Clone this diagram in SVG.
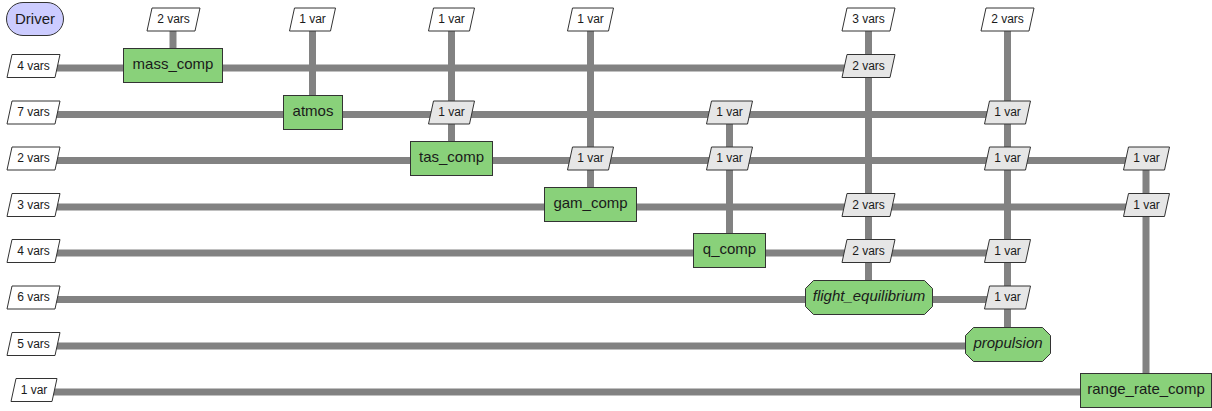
<svg xmlns="http://www.w3.org/2000/svg" xmlns:xlink="http://www.w3.org/1999/xlink" width="1212" height="411" viewBox="0 0 1212 411">
  <style>
    .bg { fill: #ffffff; }
    .flow { stroke: #828282; stroke-width: 7; fill: none; stroke-linecap: butt; }
    .node { stroke: #333333; stroke-width: 1; }
    .driver { fill: #ccccff; }
    .func { fill: #89d17a; }
    .in { fill: #ffffff; stroke: #333333; stroke-width: 1; }
    .data { fill: #e6e6e6; stroke: #333333; stroke-width: 1; }
    .lbl { font-family: "Liberation Sans", Arial, sans-serif; font-size: 15px; fill: #1a1a1a; text-anchor: middle; }
    .lbl.it { font-style: italic; }
    .var { font-family: "Liberation Sans", Arial, sans-serif; font-size: 12px; fill: #1a1a1a; text-anchor: middle; }
  </style>
  <defs>
    <!-- skewed variable tags, centred on (0,0) -->
    <polygon id="tagW" points="-21.5,-11.5 26.5,-11.5 21.5,11.5 -26.5,11.5"/>
    <polygon id="tagN" points="-18,-11.5 23,-11.5 18,11.5 -23,11.5"/>
  </defs>
  <rect class="bg" x="0" y="0" width="1212" height="411"/>

  <!-- data-flow lines -->
  <g id="connectors">
    <!-- horizontal rows -->
    <line class="flow" x1="34" y1="68" x2="868" y2="68"/>
    <line class="flow" x1="34" y1="114.5" x2="1007" y2="114.5"/>
    <line class="flow" x1="34" y1="160.5" x2="1146" y2="160.5"/>
    <line class="flow" x1="34" y1="207" x2="1146" y2="207"/>
    <line class="flow" x1="34" y1="253" x2="1007" y2="253"/>
    <line class="flow" x1="34" y1="299.5" x2="1007" y2="299.5"/>
    <line class="flow" x1="34" y1="346" x2="1007" y2="346"/>
    <line class="flow" x1="34" y1="392" x2="1146" y2="392"/>
    <!-- vertical columns -->
    <line class="flow" x1="173" y1="19.5" x2="173" y2="68"/>
    <line class="flow" x1="312.5" y1="19.5" x2="312.5" y2="114.5"/>
    <line class="flow" x1="451.5" y1="19.5" x2="451.5" y2="160.5"/>
    <line class="flow" x1="590.5" y1="19.5" x2="590.5" y2="207"/>
    <line class="flow" x1="729.5" y1="112.5" x2="729.5" y2="253"/>
    <line class="flow" x1="868.5" y1="19.5" x2="868.5" y2="299.5"/>
    <line class="flow" x1="1007.5" y1="19.5" x2="1007.5" y2="346"/>
    <line class="flow" x1="1146" y1="158.5" x2="1146" y2="392"/>
  </g>

  <!-- inputs along the top row -->
  <g id="inputs-top">
    <use xlink:href="#tagW" x="173.5" y="19.5" class="in"/><text class="var" x="173.5" y="23">2 vars</text>
    <use xlink:href="#tagN" x="312.5" y="19.5" class="in"/><text class="var" x="312.5" y="23">1 var</text>
    <use xlink:href="#tagN" x="451.5" y="19.5" class="in"/><text class="var" x="451.5" y="23">1 var</text>
    <use xlink:href="#tagN" x="590.5" y="19.5" class="in"/><text class="var" x="590.5" y="23">1 var</text>
    <use xlink:href="#tagW" x="868.5" y="19.5" class="in"/><text class="var" x="868.5" y="23">3 vars</text>
    <use xlink:href="#tagW" x="1007.5" y="19.5" class="in"/><text class="var" x="1007.5" y="23">2 vars</text>
  </g>

  <!-- inputs along the left column -->
  <g id="inputs-left">
    <use xlink:href="#tagW" x="33.5" y="66" class="in"/><text class="var" x="33.5" y="69.5">4 vars</text>
    <use xlink:href="#tagW" x="33.5" y="112.5" class="in"/><text class="var" x="33.5" y="116">7 vars</text>
    <use xlink:href="#tagW" x="33.5" y="158.5" class="in"/><text class="var" x="33.5" y="162">2 vars</text>
    <use xlink:href="#tagW" x="33.5" y="205" class="in"/><text class="var" x="33.5" y="208.5">3 vars</text>
    <use xlink:href="#tagW" x="33.5" y="251" class="in"/><text class="var" x="33.5" y="254.5">4 vars</text>
    <use xlink:href="#tagW" x="33.5" y="297.5" class="in"/><text class="var" x="33.5" y="301">6 vars</text>
    <use xlink:href="#tagW" x="33.5" y="344" class="in"/><text class="var" x="33.5" y="347.5">5 vars</text>
    <use xlink:href="#tagN" x="34" y="390" class="in"/><text class="var" x="34" y="393.5">1 var</text>
  </g>

  <!-- coupling variables between components -->
  <g id="couplings">
    <use xlink:href="#tagW" x="868.5" y="66" class="data"/><text class="var" x="868.5" y="69.5">2 vars</text>
    <use xlink:href="#tagN" x="451.5" y="112.5" class="data"/><text class="var" x="451.5" y="116">1 var</text>
    <use xlink:href="#tagN" x="729.5" y="112.5" class="data"/><text class="var" x="729.5" y="116">1 var</text>
    <use xlink:href="#tagN" x="1007.5" y="112.5" class="data"/><text class="var" x="1007.5" y="116">1 var</text>
    <use xlink:href="#tagN" x="590.5" y="158.5" class="data"/><text class="var" x="590.5" y="162">1 var</text>
    <use xlink:href="#tagN" x="729.5" y="158.5" class="data"/><text class="var" x="729.5" y="162">1 var</text>
    <use xlink:href="#tagN" x="1007.5" y="158.5" class="data"/><text class="var" x="1007.5" y="162">1 var</text>
    <use xlink:href="#tagN" x="1146.5" y="158.5" class="data"/><text class="var" x="1146.5" y="162">1 var</text>
    <use xlink:href="#tagW" x="868.5" y="205" class="data"/><text class="var" x="868.5" y="208.5">2 vars</text>
    <use xlink:href="#tagN" x="1146.5" y="205" class="data"/><text class="var" x="1146.5" y="208.5">1 var</text>
    <use xlink:href="#tagW" x="868.5" y="251" class="data"/><text class="var" x="868.5" y="254.5">2 vars</text>
    <use xlink:href="#tagN" x="1007.5" y="251" class="data"/><text class="var" x="1007.5" y="254.5">1 var</text>
    <use xlink:href="#tagN" x="1007.5" y="297.5" class="data"/><text class="var" x="1007.5" y="301">1 var</text>
  </g>

  <!-- components on the diagonal -->
  <g id="driver">
    <rect class="node driver" x="6.5" y="2.5" width="57" height="33" rx="16.5" ry="16.5"/>
    <text class="lbl" x="35" y="24">Driver</text>
  </g>
  <g id="mass_comp">
    <rect class="node func" x="123.5" y="48.5" width="99" height="34"/>
    <text class="lbl" x="173" y="68.5">mass_comp</text>
  </g>
  <g id="atmos">
    <rect class="node func" x="283.5" y="95.5" width="59" height="34"/>
    <text class="lbl" x="313" y="115.5">atmos</text>
  </g>
  <g id="tas_comp">
    <rect class="node func" x="410.5" y="141.5" width="82" height="34"/>
    <text class="lbl" x="451.5" y="161.5">tas_comp</text>
  </g>
  <g id="gam_comp">
    <rect class="node func" x="544.5" y="187.5" width="92" height="34"/>
    <text class="lbl" x="590.5" y="207.5">gam_comp</text>
  </g>
  <g id="q_comp">
    <rect class="node func" x="693.5" y="233.5" width="72" height="34"/>
    <text class="lbl" x="729.5" y="253.5">q_comp</text>
  </g>
  <g id="flight_equilibrium">
    <polygon class="node func" points="813.5,280.5 924.5,280.5 932.5,288.5 932.5,306.5 924.5,314.5 813.5,314.5 805.5,306.5 805.5,288.5"/>
    <text class="lbl it" x="869" y="300.5">flight_equilibrium</text>
  </g>
  <g id="propulsion">
    <polygon class="node func" points="973.5,327.5 1042.5,327.5 1050.5,335.5 1050.5,353.5 1042.5,361.5 973.5,361.5 965.5,353.5 965.5,335.5"/>
    <text class="lbl it" x="1008" y="347.5">propulsion</text>
  </g>
  <g id="range_rate_comp">
    <rect class="node func" x="1080.5" y="373.5" width="131" height="34"/>
    <text class="lbl" x="1146" y="393.5">range_rate_comp</text>
  </g>
</svg>
